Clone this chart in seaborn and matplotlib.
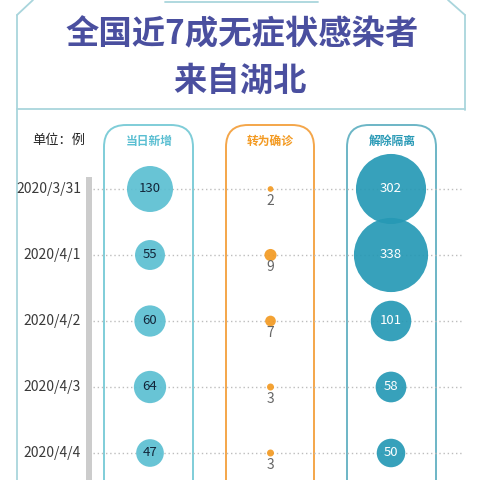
import matplotlib
matplotlib.use("Agg")
import matplotlib.pyplot as plt
import seaborn as sns
import pandas as pd
from matplotlib.patches import FancyBboxPatch, Rectangle

# ---- data ----
dates = ["2020/3/31", "2020/4/1", "2020/4/2", "2020/4/3", "2020/4/4"]
categories = ["当日新增", "转为确诊", "解除隔离"]
new_cases = [130, 55, 60, 64, 47]
confirmed = [2, 9, 7, 3, 3]
released = [302, 338, 101, 58, 50]
title_lines = ["全国近7成无症状感染者", "来自湖北"]
unit_label = "单位：例"

sns.set_theme(style="white")
plt.rcParams['font.family'] = ['Noto Sans CJK SC', 'DejaVu Sans']

W = H = 480
fig = plt.figure(figsize=(4.8, 4.8), dpi=100)
fig.patch.set_facecolor("white")

# decoration axes in pixel coordinates (y downward)
deco = fig.add_axes([0, 0, 1, 1])
deco.set_xlim(0, W)
deco.set_ylim(H, 0)
deco.axis("off")

frame_c = "#a9d5dc"
lw = 1.3
deco.plot([17, 17], [15, 480], color=frame_c, lw=lw)
deco.plot([17, 33], [15, 0], color=frame_c, lw=lw)
deco.plot([465, 465], [15, 110], color=frame_c, lw=lw)
deco.plot([465, 448], [15, 0], color=frame_c, lw=lw)
deco.plot([17, 465], [109, 109], color=frame_c, lw=lw)
deco.plot([165, 318], [1.5, 1.5], color=frame_c, lw=lw)

title_c = "#4a4f9f"
deco.text(242, 35, title_lines[0], ha="center", va="center", fontsize=24,
          fontweight="heavy", color=title_c)
deco.text(240, 81, title_lines[1], ha="center", va="center", fontsize=24,
          fontweight="heavy", color=title_c)

deco.text(59, 140, unit_label, ha="center", va="center", fontsize=9.5,
          color="#222222", fontweight="medium")

# column boxes
box_specs = [(104, 193, "#7fcdd8", "#5bbfd2"),
             (226, 314, "#f4a64a", "#f39a22"),
             (347, 436, "#6cb6c6", "#2a9ab6")]
for (xl, xr, ec, tc), cat in zip(box_specs, categories):
    p = FancyBboxPatch((xl, 125), xr - xl, 420, boxstyle="round,pad=0,rounding_size=22",
                       fc="none", ec=ec, lw=1.4)
    deco.add_patch(p)
    deco.text((xl + xr) / 2 + 0.5, 141, cat, ha="center", va="center", fontsize=8.5,
              fontweight="bold", color=tc)

# gray bar
deco.add_patch(Rectangle((86, 177), 6, 320, fc="#cccccc", ec="none"))

# main axes (data)
ax = fig.add_axes([0, 0, 1, 1])
ax.patch.set_alpha(0)
ax.axis("off")

df = pd.DataFrame({
    "date": dates * 3,
    "cat": [categories[0]] * 5 + [categories[1]] * 5 + [categories[2]] * 5,
    "value": new_cases + confirmed + released,
})

x_sp = 120.5
y_sp = 66.0
x0_px, y0_px = 150.0, 189.0

for j, d in enumerate(dates):
    ax.axhline(j, xmin=93 / W, xmax=463 / W, color="#bdbdbd", lw=1,
               linestyle=(0, (1, 2)), zorder=1)

colors = ["#5bbfd2", "#f39a22", "#2699b5"]
k = 8.435
for cat, col in zip(categories, colors):
    sub = df[df["cat"] == cat]
    sns.scatterplot(data=sub, x="cat", y="date", size="value", sizes=(0, k * 338),
                    size_norm=(0, 338), color=col, alpha=0.92, linewidth=0,
                    legend=False, ax=ax, zorder=3)

ax.set_xlim(-x0_px / x_sp, (W - x0_px) / x_sp)
ax.set_ylim((H - y0_px) / y_sp, -y0_px / y_sp)
ax.axis("off")

for j, v in enumerate(new_cases):
    ax.text(0, j, str(v), ha="center", va="center", fontsize=9.5, color="#13263a", zorder=5)
for j, v in enumerate(confirmed):
    ax.text(1, j + 12 / y_sp, str(v), ha="center", va="center", fontsize=10,
            color="#666666", fontweight="light", zorder=5)
for j, v in enumerate(released):
    ax.text(2, j, str(v), ha="center", va="center", fontsize=9.5, color="white", zorder=5)

for j, d in enumerate(dates):
    ax.text(81 / W, j, d, transform=ax.get_yaxis_transform(), ha="right", va="center",
            fontsize=10, color="#3a3a3a", fontweight="light")

fig.savefig("out.png", dpi=100)
